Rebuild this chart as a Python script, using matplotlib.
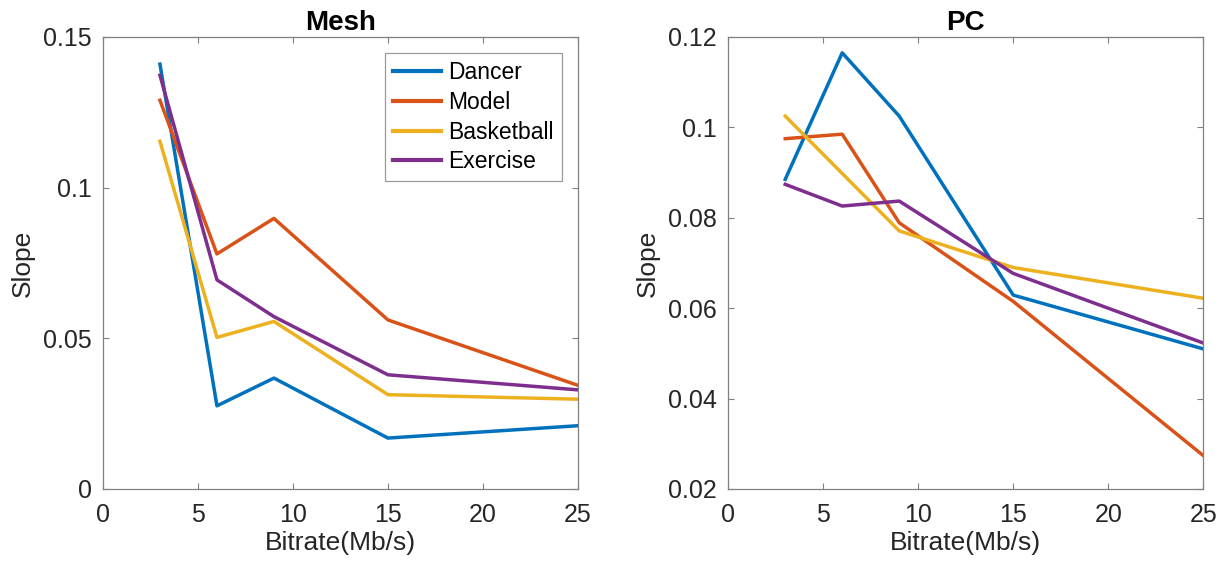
import numpy as np
import matplotlib.pyplot as plt

plt.rcParams['font.family'] = ['Liberation Sans', 'DejaVu Sans']

# Data
bitrate = [3, 6, 9, 15, 25]
names = ['Dancer', 'Model', 'Basketball', 'Exercise']
colors = ['#0072BD', '#D95319', '#EDB120', '#7E2F8E']

mesh_dancer = [0.141, 0.0276, 0.0368, 0.0169, 0.0210]
mesh_model = [0.129, 0.0780, 0.0898, 0.0561, 0.0344]
mesh_basketball = [0.1154, 0.0503, 0.0556, 0.0313, 0.0298]
mesh_exercise = [0.1373, 0.0694, 0.0572, 0.0379, 0.0329]

pc_dancer = [0.0885, 0.1165, 0.1025, 0.0629, 0.0510]
pc_model = [0.0975, 0.0985, 0.0789, 0.0615, 0.0274]
pc_basketball = [0.1025, 0.0898, 0.0771, 0.0690, 0.0622]
pc_exercise = [0.0874, 0.0826, 0.0837, 0.0677, 0.0523]

mesh = [mesh_dancer, mesh_model, mesh_basketball, mesh_exercise]
pc = [pc_dancer, pc_model, pc_basketball, pc_exercise]

fig = plt.figure(figsize=(12.27, 5.69), dpi=100)
ax1 = fig.add_axes([0.0839, 0.1406, 0.3871, 0.7944])
ax2 = fig.add_axes([0.5935, 0.1406, 0.3871, 0.7944])

def style(ax, title, yticks, ylim, ylabels):
    ax.set_xlim(0, 25)
    ax.set_ylim(*ylim)
    ax.set_xticks([0, 5, 10, 15, 20, 25])
    ax.set_yticks(yticks)
    ax.set_yticklabels(ylabels)
    ax.tick_params(direction='in', top=True, right=True, labelsize=18,
                   length=4, width=0.8, color='#808080', labelcolor='#262626')
    ax.tick_params(axis='x', pad=10)
    ax.tick_params(axis='y', pad=8)
    for s in ax.spines.values():
        s.set_color('#808080')
        s.set_linewidth(0.9)
    ax.set_title(title, fontsize=20, fontweight='bold', pad=5)
    ax.set_xlabel('Bitrate(Mb/s)', fontsize=19, color='#262626', labelpad=3)
    ax.set_ylabel('Slope', fontsize=19, color='#262626', labelpad=6)

for vals, name, c in zip(mesh, names, colors):
    ax1.plot(bitrate, vals, color=c, lw=2.5, label=name)
for vals, name, c in zip(pc, names, colors):
    ax2.plot(bitrate, vals, color=c, lw=2.5, label=name)

style(ax1, 'Mesh', [0, 0.05, 0.1, 0.15], (0, 0.15), ['0', '0.05', '0.1', '0.15'])
style(ax2, 'PC', [0.02, 0.04, 0.06, 0.08, 0.1, 0.12], (0.02, 0.12),
      ['0.02', '0.04', '0.06', '0.08', '0.1', '0.12'])

leg = ax1.legend(loc='upper right', bbox_to_anchor=(0.966, 0.965), fontsize=16.5,
                 frameon=True, fancybox=False, edgecolor='#808080',
                 handlelength=2.1, handletextpad=0.3, borderpad=0.35,
                 labelspacing=0.3, borderaxespad=0)
leg.get_frame().set_linewidth(0.9)
for h in leg.get_lines():
    h.set_linewidth(3)

fig.savefig('out.png', dpi=100)
